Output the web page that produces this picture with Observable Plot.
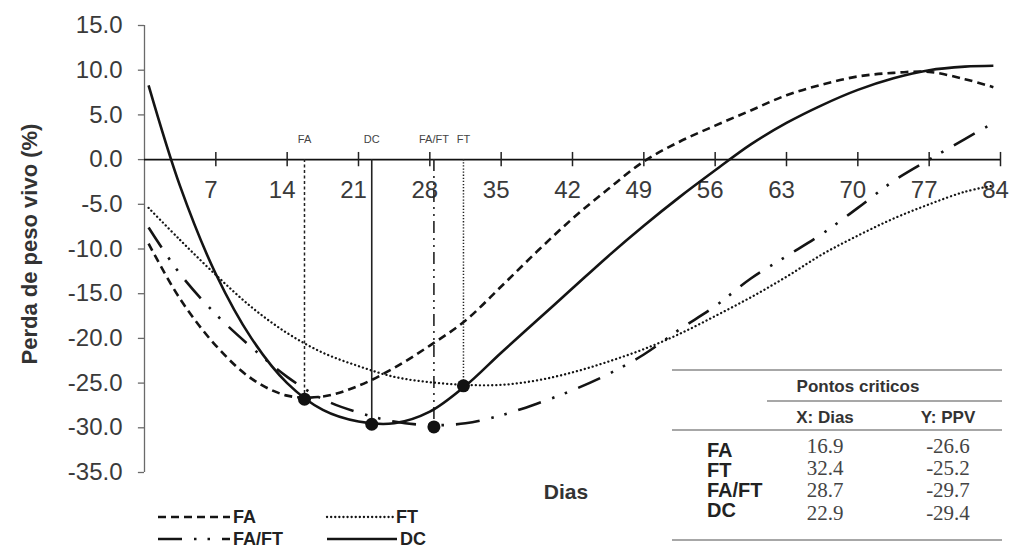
<!DOCTYPE html>
<html><head><meta charset="utf-8">
<script src="https://cdn.jsdelivr.net/npm/d3@7"></script>
<script src="https://cdn.jsdelivr.net/npm/@observablehq/plot@0.6"></script>
<style>
body{margin:0;background:#fff;}
#wrap{position:relative;width:1011px;height:550px;overflow:hidden;font-family:"Liberation Sans",Arial,sans-serif;}
#wrap svg{position:absolute;left:0;top:0;}
</style></head><body><div id="wrap"></div>
<script>
// ---- data ----
const days = [0.4, 3.5, 7, 10.5, 14, 17.5, 21, 24.5, 28, 31.5, 35, 38.5, 42, 45.5, 49, 52.5, 56, 59.5, 63, 66.5, 70, 73.5, 77, 80.5, 83.3];
const faValues   = [-9.4, -15.6, -20.8, -24.5, -26.4, -26.5, -25.3, -23.3, -20.8, -18.0, -14.2, -10.3, -6.6, -3.3, -0.2, 2.0, 3.8, 5.5, 7.2, 8.4, 9.3, 9.7, 9.8, 9.0, 8.1];
const ftValues   = [-5.4, -9.0, -12.9, -16.5, -19.4, -21.6, -23.1, -24.3, -24.9, -25.2, -25.2, -24.7, -23.8, -22.6, -21.2, -19.5, -17.5, -15.4, -13.1, -10.6, -8.5, -6.6, -5.0, -3.6, -2.9];
const faftValues = [-7.6, -12.8, -17.3, -21.0, -24.3, -26.8, -28.3, -29.3, -29.7, -29.5, -28.6, -27.3, -25.8, -24.0, -21.8, -19.0, -16.4, -13.3, -10.8, -8.3, -5.4, -2.4, 0.0, 2.3, 4.1];
const dcValues   = [8.3, -3.0, -12.8, -20.0, -25.0, -28.0, -29.3, -29.5, -28.2, -25.3, -21.6, -18.0, -14.4, -10.8, -7.4, -4.2, -1.2, 1.7, 4.1, 6.1, 7.8, 9.1, 10.0, 10.4, 10.5];

const seriesNames = ["FA", "FT", "FA/FT", "DC"];
// critical points as drawn on the chart
const critDrawnX = [15.7, 31.3, 28.4, 22.3];
const critDrawnY = [-26.8, -25.3, -29.9, -29.6];
// critical points table
const tableDias = ["16.9", "32.4", "28.7", "22.9"];
const tablePPV  = ["-26.6", "-25.2", "-29.7", "-29.4"];

const xTicks = [7, 14, 21, 28, 35, 42, 49, 56, 63, 70, 77, 84];
const yTicks = [-35, -30, -25, -20, -15, -10, -5, 0, 5, 10, 15];

const yLabel = "Perda de peso vivo (%)";
const xLabel = "Dias";
const tableTitle = "Pontos criticos";
const tableCols = ["X: Dias", "Y: PPV"];

// ---- styles ----
const styles = {
  "FA":    {dash: "8,5",  width: 2.6, cap: "butt",  vdash: "3,2.5", vwidth: 1.5},
  "FT":    {dash: "0.1,4", width: 2.3, cap: "round", vdash: "1.3,1.8", vwidth: 1.5},
  "FA/FT": {dash: "24,12,2.5,11,2.5,12", width: 2.6, cap: "butt", vdash: "12,5,2,5,2,5", vwidth: 1.6},
  "DC":    {dash: null,  width: 2.6, cap: "butt",  vdash: null, vwidth: 1.6}
};
const seriesValues = [faValues, ftValues, faftValues, dcValues];
const crit = seriesNames.map((s, i) => ({series: s, x: critDrawnX[i], y: critDrawnY[i]}));

const marks = [];
// y axis
marks.push(Plot.ruleX([0], {y1: -35, y2: 15, stroke: "#6a6a6a", strokeWidth: 1.3}));
marks.push(Plot.ruleY(yTicks, {y: d => d, x1: -0.6, x2: 0, stroke: "#6a6a6a", strokeWidth: 1.3}));
// x axis at zero
marks.push(Plot.ruleY([0], {x1: 0, x2: 84, stroke: "#111", strokeWidth: 1.8}));
marks.push(Plot.ruleX(xTicks, {x: d => d, y1: -0.8, y2: 0.8, stroke: "#222", strokeWidth: 1.5}));
marks.push(Plot.text(xTicks, {x: d => d, y: 0, dy: 31, dx: -5, text: d => String(d), fontSize: 24, fill: "#3a3a3a"}));
marks.push(Plot.text(yTicks, {x: 0, y: d => d, dx: -22, textAnchor: "end", text: d => d.toFixed(1), fontSize: 24, fill: "#3a3a3a"}));
// vertical marker lines
crit.forEach(c => {
  const st = styles[c.series];
  marks.push(Plot.ruleX([c], {x: "x", y1: 0, y2: "y", stroke: "#222", strokeWidth: st.vwidth, strokeDasharray: st.vdash}));
});
// curves
seriesNames.forEach((s, k) => {
  const st = styles[s];
  const rows = days.map((d, i) => ({day: d, v: seriesValues[k][i]}));
  marks.push(Plot.line(rows, {x: "day", y: "v", curve: "catmull-rom", stroke: "#141414", strokeWidth: st.width, strokeDasharray: st.dash, strokeLinecap: st.cap}));
});
// critical dots and labels
marks.push(Plot.dot(crit, {x: "x", y: "y", r: 6.5, fill: "#111", stroke: "none"}));
marks.push(Plot.text(crit, {x: "x", y: 0, dy: -20, text: "series", fontSize: 11, fill: "#444"}));

const chart = Plot.plot({
  width: 1011, height: 550,
  marginLeft: 144, marginRight: 11, marginTop: 25, marginBottom: 78,
  x: {type: "linear", domain: [0, 84], axis: null},
  y: {type: "linear", domain: [-35, 15], axis: null},
  style: {fontFamily: "'Liberation Sans', Arial, sans-serif", background: "transparent"},
  marks
});
const wrap = document.getElementById("wrap");
wrap.appendChild(chart);

// ---- overlay: axis titles, legend, table ----
const ov = d3.select(wrap).append("svg").attr("width", 1011).attr("height", 550)
  .style("font-family", "'Liberation Sans', Arial, sans-serif");
ov.append("text").attr("transform", "translate(37,244) rotate(-90)").attr("text-anchor", "middle")
  .attr("font-size", 22).attr("font-weight", "bold").attr("fill", "#333").text(yLabel);
ov.append("text").attr("x", 566).attr("y", 499).attr("text-anchor", "middle")
  .attr("font-size", 21).attr("font-weight", "bold").attr("fill", "#333").text(xLabel);

// legend
const legendPos = {"FA": [158, 517], "FT": [327, 517], "FA/FT": [158, 539], "DC": [327, 539]};
const legendLen = {"FA": 72, "FT": 66, "FA/FT": 72, "DC": 70};
seriesNames.forEach(s => {
  const st = styles[s];
  const [lx, ly] = legendPos[s];
  const ln = ov.append("line").attr("x1", lx).attr("x2", lx + legendLen[s]).attr("y1", ly).attr("y2", ly)
    .attr("stroke", "#141414").attr("stroke-width", st.width).attr("stroke-linecap", st.cap);
  if (st.dash) ln.attr("stroke-dasharray", st.dash);
  ov.append("text").attr("x", lx + legendLen[s] + 3).attr("y", ly + 6).attr("font-size", 18)
    .attr("font-weight", "bold").attr("fill", "#222").text(s);
});

// table
const rule = (x1, x2, y) => ov.append("line").attr("x1", x1).attr("x2", x2).attr("y1", y).attr("y2", y)
  .attr("stroke", "#8a8a8a").attr("stroke-width", 1.5);
rule(672, 1002, 370); rule(767, 1002, 401); rule(672, 1002, 430); rule(672, 1002, 540);
ov.append("text").attr("x", 858).attr("y", 392).attr("text-anchor", "middle").attr("font-size", 17)
  .attr("font-weight", "bold").attr("fill", "#333").text(tableTitle);
ov.append("text").attr("x", 825).attr("y", 423).attr("text-anchor", "middle").attr("font-size", 17)
  .attr("font-weight", "bold").attr("fill", "#333").text(tableCols[0]);
ov.append("text").attr("x", 948).attr("y", 423).attr("text-anchor", "middle").attr("font-size", 17)
  .attr("font-weight", "bold").attr("fill", "#333").text(tableCols[1]);
const labelBase = [457, 477, 497, 517];
const numBase = [453, 475, 497, 520];
seriesNames.forEach((s, i) => {
  ov.append("text").attr("x", 707).attr("y", labelBase[i]).attr("font-size", 20).attr("font-weight", "bold")
    .attr("fill", "#222").text(s);
  ov.append("text").attr("x", 825).attr("y", numBase[i]).attr("text-anchor", "middle").attr("font-size", 21)
    .attr("font-family", "'Liberation Serif', 'Times New Roman', serif").attr("fill", "#444").text(tableDias[i]);
  ov.append("text").attr("x", 948).attr("y", numBase[i]).attr("text-anchor", "middle").attr("font-size", 21)
    .attr("font-family", "'Liberation Serif', 'Times New Roman', serif").attr("fill", "#444").text(tablePPV[i]);
});
</script>
</body></html>
